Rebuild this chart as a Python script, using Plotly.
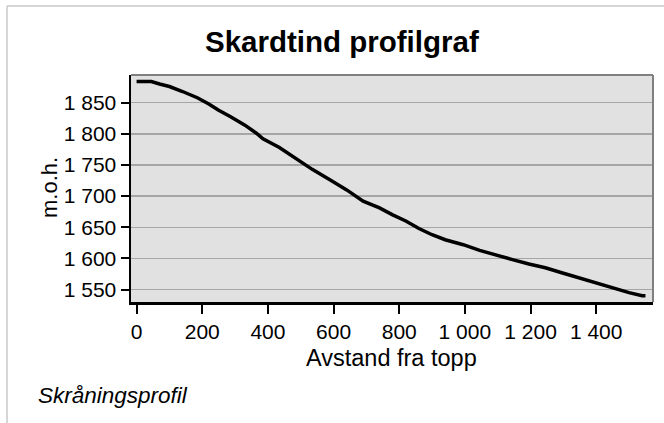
import plotly.graph_objects as go

# Data
distance = [0, 20, 45, 70, 100, 140, 185, 220, 250, 285, 330, 365, 385, 435, 485, 535,
            590, 640, 690, 740, 780, 820, 860, 900, 940, 995, 1045, 1095, 1145, 1195,
            1245, 1295, 1345, 1400, 1450, 1500, 1540, 1550]
elevation = [1884, 1884, 1884, 1880, 1876, 1868, 1858, 1848, 1838, 1828, 1814, 1801,
             1792, 1778, 1761, 1743, 1726, 1710, 1692, 1681, 1670, 1660, 1648, 1638,
             1630, 1622, 1613, 1605, 1598, 1591, 1585, 1577, 1569, 1560, 1552, 1545,
             1540, 1540]

x_tickvals = [0, 200, 400, 600, 800, 1000, 1200, 1400]
x_ticktext = ["0", "200", "400", "600", "800", "1 000", "1 200", "1 400"]
y_tickvals = [1550, 1600, 1650, 1700, 1750, 1800, 1850]
y_ticktext = ["1 550", "1 600", "1 650", "1 700", "1 750", "1 800", "1 850"]

title_text = "Skardtind profilgraf"
x_title = "Avstand fra topp"
y_title = "m.o.h."
footnote = "Skråningsprofil"

W, H = 664, 423
L, R, T, B = 131, 653, 75, 302


def xp(px):
    return (px - L) / (R - L)


def yp(py):
    return (B - py) / (B - T)


FONT = "Liberation Sans, Arial, sans-serif"

fig = go.Figure()
fig.add_trace(go.Scatter(x=distance, y=elevation, mode="lines",
                         line=dict(color="black", width=3.5), showlegend=False,
                         hoverinfo="skip"))

fig.update_layout(
    width=W, height=H,
    margin=dict(l=L, r=W - R, t=T, b=H - B, pad=0),
    paper_bgcolor="white",
    plot_bgcolor="#e1e1e1",
    font=dict(family=FONT, size=21, color="black"),
    showlegend=False,
)

fig.update_xaxes(
    range=[-17, 1573], tickvals=x_tickvals, ticktext=x_ticktext,
    showgrid=False, zeroline=False,
    showline=True, linecolor="black", linewidth=2.5,
    ticks="outside", ticklen=9, tickwidth=2, tickcolor="black",
    tickfont=dict(family=FONT, size=21, color="black"),
)
fig.update_yaxes(
    range=[1530, 1894.5], tickvals=y_tickvals, ticktext=y_ticktext,
    showgrid=True, gridcolor="#a6a6a6", gridwidth=1.5, zeroline=False,
    showline=True, linecolor="black", linewidth=2.5,
    ticks="outside", ticklen=8, tickwidth=2, tickcolor="black",
    tickfont=dict(family=FONT, size=21, color="black"),
)

shapes = [
    # plot area top and right borders (gray)
    dict(type="line", xref="paper", yref="paper", x0=0, x1=1, y0=1, y1=1,
         line=dict(color="#808080", width=2)),
    dict(type="line", xref="paper", yref="paper", x0=1, x1=1, y0=0, y1=1,
         line=dict(color="#808080", width=2)),
    # outer chart frame (top and left visible)
    dict(type="line", xref="paper", yref="paper", x0=xp(7), x1=xp(700), y0=yp(6), y1=yp(6),
         line=dict(color="#c8c8c8", width=1.5)),
    dict(type="line", xref="paper", yref="paper", x0=xp(7), x1=xp(7), y0=yp(6), y1=yp(460),
         line=dict(color="#c8c8c8", width=1.5)),
]
fig.update_layout(shapes=shapes)

annotations = [
    dict(text="<b>" + title_text + "</b>", xref="paper", yref="paper",
         x=xp(341.5), y=yp(42), xanchor="center", yanchor="middle", showarrow=False,
         font=dict(family=FONT, size=29.5, color="black")),
    dict(text=x_title, xref="paper", yref="paper",
         x=xp(391), y=yp(358), xanchor="center", yanchor="middle", showarrow=False,
         font=dict(family=FONT, size=23.5, color="black")),
    dict(text=y_title, xref="paper", yref="paper", textangle=-90,
         x=xp(49), y=yp(188), xanchor="center", yanchor="middle", showarrow=False,
         font=dict(family=FONT, size=22, color="black")),
    dict(text="<i>" + footnote + "</i>", xref="paper", yref="paper",
         x=xp(36), y=yp(395), xanchor="left", yanchor="middle", showarrow=False,
         font=dict(family=FONT, size=22.5, color="black")),
]
fig.update_layout(annotations=annotations)

fig.write_html("out.html",
               config={"displayModeBar": False, "staticPlot": True},
               post_script="document.body.style.margin='0';document.body.style.overflow='hidden';")
